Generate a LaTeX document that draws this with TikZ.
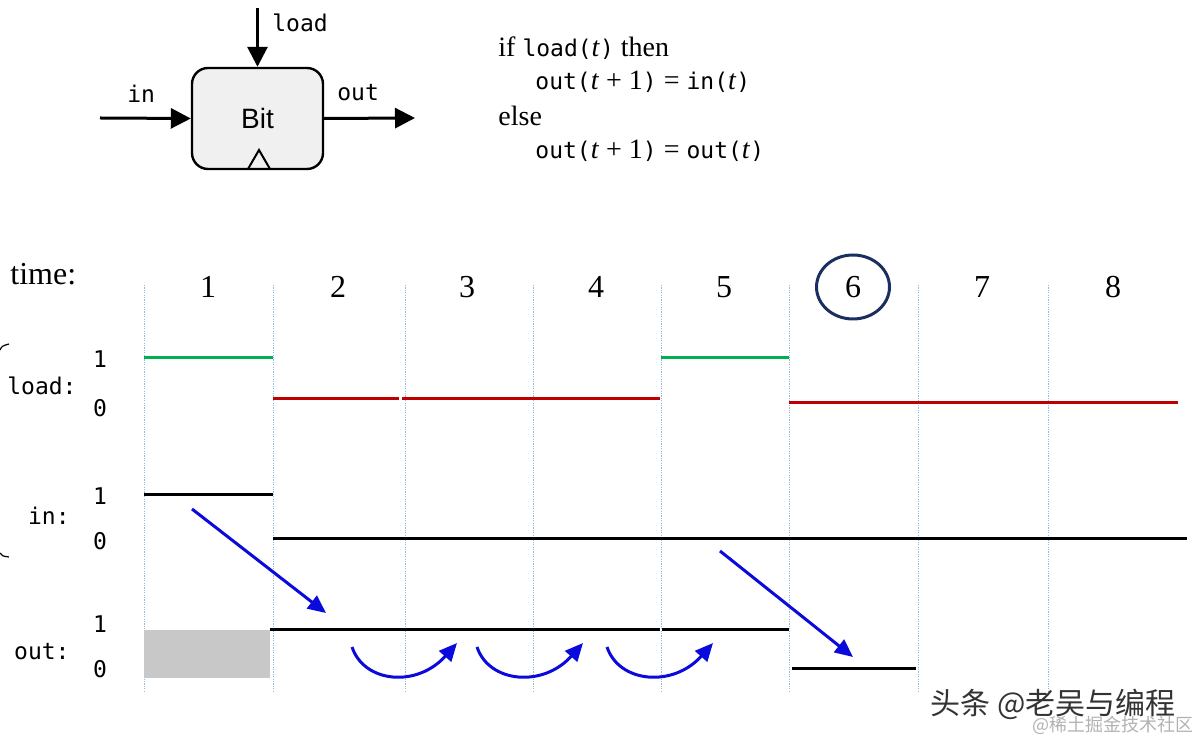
\documentclass[tikz,border=0pt]{standalone}
\usepackage{fontspec}
\setmainfont{Liberation Serif}
\newfontfamily\monof{DejaVu Sans Mono}
\newfontfamily\sansf{Liberation Sans}
\newfontfamily\cjk{Noto Sans CJK SC}
\usetikzlibrary{arrows.meta}
\definecolor{sgreen}{HTML}{00B050}
\definecolor{sred}{HTML}{C00000}
\definecolor{sblue}{HTML}{0A0ADC}
\definecolor{navy}{HTML}{1A2F60}
\definecolor{gridblue}{HTML}{8FBCE0}
\definecolor{boxgray}{HTML}{F0F0F0}
\definecolor{shadegray}{HTML}{C8C8C8}
\newcommand\mt[1]{{\monof\fontsize{11.5}{13}\selectfont #1}}
\tikzset{
  gridline/.style={draw=gridblue, line width=0.5pt, dash pattern=on 0.6pt off 0.6pt},
  sig/.style={line width=1.5pt},
  lab/.style={font=\monof\fontsize{11.5}{13}\selectfont, inner sep=0},
  num/.style={font=\fontsize{16}{18}\selectfont, inner sep=0},
  barrow/.style={draw=sblue, line width=1.5pt, -{Triangle[length=9pt,width=8pt]}},
  karrow/.style={draw=black, line width=1.5pt, -{Triangle[length=10pt,width=10pt]}},
  code/.style={font=\fontsize{14}{16}\selectfont, inner sep=0, anchor=base west},
}
\begin{document}
\begin{tikzpicture}[x=0.5pt,y=-0.5pt]
\useasboundingbox (0,0) rectangle (1200,742);
% ---- Bit block ----
\node (bit) [draw, rounded corners=8pt, fill=boxgray, line width=1.2pt,
  minimum width=65.5pt, minimum height=50.5pt, inner sep=0,
  font=\sansf\fontsize{14}{16}\selectfont] at (257.5,118.5) {Bit};
\draw[line width=1pt] (248,169) -- (259,150) -- (270,169);
\coordinate (loadsrc) at (257.5,8);
\coordinate (insrc) at (100,118);
\coordinate (outdst) at (415,118);
\draw[karrow] (loadsrc) -- (bit.north);
\draw[karrow] (insrc) -- (bit.west);
\draw[karrow] (bit.east) -- (outdst);
\node (lload) [lab, anchor=base west] at (272,32) {load};
\node (lin) [lab, anchor=base west] at (127,103) {in};
\node (lout) [lab, anchor=base west] at (337,101) {out};
% ---- rule text ----
\node (c1) [code] at (498,57) {if \mt{load(}\textit{t}\mt{)} then};
\node (c2) [code] at (535,90) {\mt{out(}\textit{t} + 1\mt{)} = \mt{in(}\textit{t}\mt{)}};
\node (c3) [code] at (498,126) {else};
\node (c4) [code] at (535,159) {\mt{out(}\textit{t} + 1\mt{)} = \mt{out(}\textit{t}\mt{)}};
% ---- grid ----
\foreach \x in {144,273,405,533,661,789,918,1048}
  \draw[gridline] (\x,285) -- (\x,693);
\node (time) [num, anchor=base west] at (10,285) {time:};
\foreach \n/\x in {1/208,2/338,3/467,4/596,5/724,6/853,7/982,8/1113}
  \node (t\n) [num] at (\x,287) {\n};
\draw[navy, line width=1.5pt] (t6.center) ellipse [x radius=18.25pt, y radius=16pt];
% ---- left brace tips ----
\draw[line width=0.6pt] (0,350) .. controls (2,346) .. (9,344);
\draw[line width=0.6pt] (0,553) .. controls (2,556) .. (9,557);
% ---- labels ----
\node (lload1) [lab, anchor=base] at (100,368) {1};
\node (lload0) [lab, anchor=base] at (100,417) {0};
\node (lloadn) [lab, anchor=base east] at (77,395) {load:};
\node (lin1) [lab, anchor=base] at (100,505) {1};
\node (lin0) [lab, anchor=base] at (100,550) {0};
\node (linn) [lab, anchor=base east] at (70,525) {in:};
\node (lout1) [lab, anchor=base] at (100,633) {1};
\node (lout0) [lab, anchor=base] at (100,678) {0};
\node (loutn) [lab, anchor=base east] at (70,660) {out:};
% ---- load signal ----
\draw[sig, sgreen] (144,358) -- (273,358);
\draw[sig, sgreen] (661,358) -- (789,358);
\draw[sig, sred] (273,399) -- (399,399);
\draw[sig, sred] (402,399) -- (660,399);
\draw[sig, sred] (789,403) -- (1178,403);
% ---- in signal ----
\draw[sig] (144,495) -- (273,495);
\draw[sig] (273,539) -- (1187,539);
% ---- out signal ----
\fill[shadegray] (144,630) rectangle (270,678);
\draw[sig] (270,630) -- (660,630);
\draw[sig] (662,630) -- (789,630);
\draw[sig] (792,669) -- (916,669);
% ---- blue arrows ----
\coordinate (a1s) at (192,509); \coordinate (a1e) at (326,613);
\coordinate (a2s) at (720,551); \coordinate (a2e) at (853,657);
\draw[barrow] (a1s) -- (a1e);
\draw[barrow] (a2s) -- (a2e);
\foreach \s/\e in {352/457,477/583,607/713}{
  \draw[barrow] (\s,647) .. controls (\s+12,683) and (\e-40,688) .. (\e,643);
}
% ---- watermarks ----
\node (wm1) [font=\cjk\fontsize{15}{17}\selectfont, text=black!80, inner sep=0] at (1053,704) {头条 @老吴与编程};
\node (wm2) [font=\cjk\fontsize{9}{10}\selectfont, text=black!30, inner sep=0] at (1113,725) {@稀土掘金技术社区};
\end{tikzpicture}
\end{document}
